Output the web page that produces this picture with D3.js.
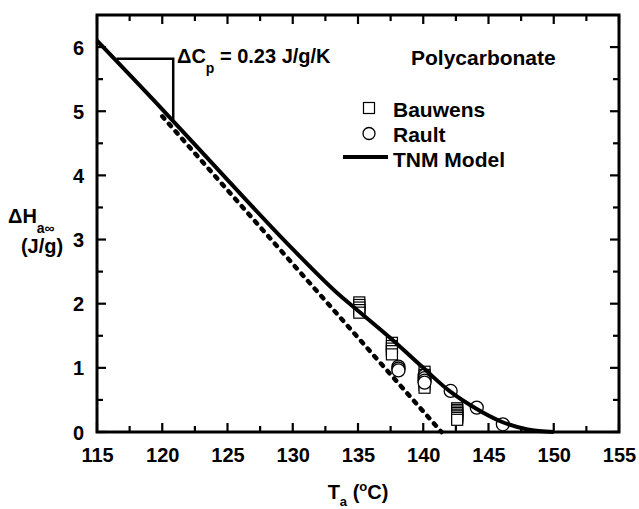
<!DOCTYPE html>
<html>
<head>
<meta charset="utf-8">
<script src="https://cdn.jsdelivr.net/npm/d3@7/dist/d3.min.js"></script>
<style>
  body { margin: 0; background: #fff; }
  svg text { font-family: "Liberation Sans", Arial, Helvetica, sans-serif; font-weight: bold; fill: #000; }
</style>
</head>
<body>
<div id="chart-area"></div>
<script>
// Bauwens: temperatures and the stacked enthalpy values at each one
var bauwensT = [135.1, 137.6, 140.1, 142.6];
var bauwensH = [
  [2.02, 1.98, 1.94, 1.90, 1.86],
  [1.39, 1.34, 1.30, 1.26, 1.21],
  [0.94, 0.89, 0.84, 0.79, 0.74, 0.69],
  [0.37, 0.345, 0.32, 0.295, 0.27, 0.245, 0.22, 0.19]
];

// Rault
var raultT = [138.1, 140.1, 142.1, 144.1, 146.1];
var raultH = [
  [1.02, 0.99, 0.96],
  [0.88, 0.84, 0.80, 0.77],
  [0.64],
  [0.38],
  [0.12]
];

// TNM model curve
var tnmT = [115, 120, 125, 130, 133.6, 135, 137.5, 140, 142, 144, 146, 148, 150];
var tnmH = [6.10, 5.03, 3.93, 2.85, 2.13, 1.89, 1.46, 1.00, 0.64, 0.37, 0.16, 0.04, 0];

// dashed extrapolation of the glass line
var dashT = [120, 141.4];
var dashH = [4.92, 0];

// delta Cp triangle
var triT = [116.5, 120.84, 120.84];
var triH = [5.82, 5.82, 4.85];

// ticks
var xMajor = [115, 120, 125, 130, 135, 140, 145, 150, 155];
var xMinor = [117.5, 122.5, 127.5, 132.5, 137.5, 142.5, 147.5, 152.5];
var yMajor = [0, 1, 2, 3, 4, 5, 6];
var yMinor = [0.5, 1.5, 2.5, 3.5, 4.5, 5.5];

var margin = {left: 97, right: 20, top: 15, bottom: 77};
var width = 639 - margin.left - margin.right;
var height = 509 - margin.top - margin.bottom;

var svg = d3.select('#chart-area')
  .append('svg')
  .attr('width', 639)
  .attr('height', 509);

var g = svg.append('g')
  .attr('transform', 'translate(' + margin.left + ', ' + margin.top + ')');

var x = d3.scaleLinear().domain([115, 155]).range([0, width]);
var y = d3.scaleLinear().domain([0, 6.5]).range([height, 0]);

// flatten grouped points
function flatten(ts, hs) {
  var out = [];
  ts.forEach(function (t, i) {
    hs[i].forEach(function (h) {
      out.push({t: t, h: h});
    });
  });
  return out;
}
var bauwens = flatten(bauwensT, bauwensH);
var rault = flatten(raultT, raultH);

// inward ticks on all four sides
var ticks = g.append('g')
  .attr('stroke', '#000')
  .attr('stroke-width', 2.2);

function xTicks(vals, len) {
  vals.forEach(function (v) {
    ticks.append('line')
      .attr('x1', x(v)).attr('x2', x(v))
      .attr('y1', height).attr('y2', height - len);
    ticks.append('line')
      .attr('x1', x(v)).attr('x2', x(v))
      .attr('y1', 0).attr('y2', len);
  });
}
function yTicks(vals, len) {
  vals.forEach(function (v) {
    ticks.append('line')
      .attr('x1', 0).attr('x2', len)
      .attr('y1', y(v)).attr('y2', y(v));
    ticks.append('line')
      .attr('x1', width).attr('x2', width - len)
      .attr('y1', y(v)).attr('y2', y(v));
  });
}
xTicks(xMajor, 9);
xTicks(xMinor, 6);
yTicks(yMajor, 9);
yTicks(yMinor, 6);

// tick labels through the axis generators, tick lines hidden
g.append('g')
  .attr('transform', 'translate(0, ' + height + ')')
  .call(d3.axisBottom(x).tickValues(xMajor).tickSize(0).tickFormat(d3.format('d')))
  .call(function (s) { s.select('.domain').remove(); })
  .selectAll('text')
  .attr('y', 16)
  .attr('dy', '0.71em')
  .attr('font-size', '20px');

g.append('g')
  .call(d3.axisLeft(y).tickValues(yMajor).tickSize(0).tickFormat(d3.format('d')))
  .call(function (s) { s.select('.domain').remove(); })
  .selectAll('text')
  .attr('x', -13)
  .attr('dy', '0.35em')
  .attr('font-size', '20px');

// frame
g.append('rect')
  .attr('width', width)
  .attr('height', height)
  .attr('fill', 'none')
  .attr('stroke', '#000')
  .attr('stroke-width', 3);

// markers
g.selectAll('.bauwens')
  .data(bauwens)
  .enter()
  .append('rect')
  .attr('class', 'bauwens')
  .attr('x', function (d) { return x(d.t) - 5.5; })
  .attr('y', function (d) { return y(d.h) - 5.5; })
  .attr('width', 11)
  .attr('height', 11)
  .attr('fill', '#fff')
  .attr('stroke', '#000')
  .attr('stroke-width', 1.2);

g.selectAll('.rault')
  .data(rault)
  .enter()
  .append('circle')
  .attr('class', 'rault')
  .attr('cx', function (d) { return x(d.t); })
  .attr('cy', function (d) { return y(d.h); })
  .attr('r', 6.5)
  .attr('fill', '#fff')
  .attr('stroke', '#000')
  .attr('stroke-width', 1.3);

// lines
var line = d3.line()
  .x(function (d) { return x(d[0]); })
  .y(function (d) { return y(d[1]); });

g.append('path')
  .datum(dashT.map(function (t, i) { return [t, dashH[i]]; }))
  .attr('d', line)
  .attr('fill', 'none')
  .attr('stroke', '#000')
  .attr('stroke-width', 4.5)
  .attr('stroke-linecap', 'round')
  .attr('stroke-dasharray', '3,7');

g.append('path')
  .datum(tnmT.map(function (t, i) { return [t, tnmH[i]]; }))
  .attr('d', line.curve(d3.curveMonotoneX))
  .attr('fill', 'none')
  .attr('stroke', '#000')
  .attr('stroke-width', 4);

g.append('path')
  .datum(triT.map(function (t, i) { return [t, triH[i]]; }))
  .attr('d', line.curve(d3.curveLinear))
  .attr('fill', 'none')
  .attr('stroke', '#000')
  .attr('stroke-width', 2.5);

// delta Cp label
var cp = svg.append('text')
  .attr('x', 177)
  .attr('y', 63)
  .attr('font-size', '20px');
cp.append('tspan').text('\u0394C');
cp.append('tspan').attr('dy', 10).attr('font-size', '14px').text('p');
cp.append('tspan').attr('dy', -10).text(' = 0.23 J/g/K');

// legend
svg.append('text')
  .attr('x', 411)
  .attr('y', 65)
  .attr('font-size', '21px')
  .text('Polycarbonate');

svg.append('rect')
  .attr('x', 363.5).attr('y', 102.5)
  .attr('width', 11).attr('height', 11)
  .attr('fill', '#fff').attr('stroke', '#000').attr('stroke-width', 1.2);
svg.append('text').attr('x', 393).attr('y', 117).attr('font-size', '21px').text('Bauwens');

svg.append('circle')
  .attr('cx', 369).attr('cy', 133.5).attr('r', 6)
  .attr('fill', '#fff').attr('stroke', '#000').attr('stroke-width', 1.3);
svg.append('text').attr('x', 393).attr('y', 142).attr('font-size', '21px').text('Rault');

svg.append('line')
  .attr('x1', 343).attr('x2', 388).attr('y1', 157).attr('y2', 157)
  .attr('stroke', '#000').attr('stroke-width', 4);
svg.append('text').attr('x', 393).attr('y', 167).attr('font-size', '21px').text('TNM Model');

// Y label
var yl = svg.append('text')
  .attr('x', 8)
  .attr('y', 223)
  .attr('font-size', '20px');
yl.append('tspan').text('\u0394H');
yl.append('tspan').attr('dy', 10).attr('font-size', '14px').text('a\u221e');

svg.append('text')
  .attr('x', 42)
  .attr('y', 253)
  .attr('text-anchor', 'middle')
  .attr('font-size', '20px')
  .text('(J/g)');

// X label
var xl = svg.append('text')
  .attr('x', margin.left + width / 2)
  .attr('y', 499)
  .attr('text-anchor', 'middle')
  .attr('font-size', '20px');
xl.append('tspan').text('T');
xl.append('tspan').attr('dy', 7).attr('font-size', '13px').text('a');
xl.append('tspan').attr('dy', -7).text(' (');
xl.append('tspan').attr('dy', -8).attr('font-size', '13px').text('o');
xl.append('tspan').attr('dy', 8).text('C)');
</script>
</body>
</html>
